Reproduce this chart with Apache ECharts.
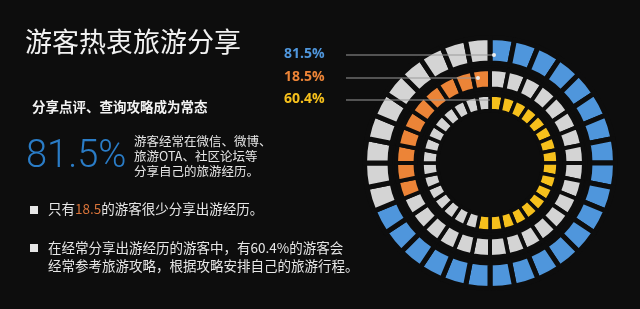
<!DOCTYPE html>
<html>
<head>
<meta charset="utf-8">
<script src="https://cdn.jsdelivr.net/npm/echarts@6/dist/echarts.min.js"></script>
<style>
  html, body { margin: 0; padding: 0; background: #0d0d0d; }
  #main { width: 640px; height: 309px; }
</style>
</head>
<body>
<div id="main"></div>
<script>
"use strict"
const backColor = '#0d0d0d';
const cjk = '"Noto Sans CJK SC", sans-serif';

// 三个环：外(蓝) 中(橙) 内(黄)
const ringNames = ['经常分享', '很少分享', '参考攻略'];
const ringPercent = ['81.5%', '18.5%', '60.4%'];
const ringSegments = [32, 32, 32];
const ringLit = [22, 10, 17];            // 图中亮色格子数
const ringLitFromEnd = [false, true, false];
const ringColors = ['#4f96dc', '#ec8437', '#f6c01c'];
const restColor = '#d4d4d4';

const bigNumber = '81.5%';
const rareShare = '18.5';

let chart = echarts.init(document.getElementById('main'), null, {renderer: 'canvas'});

const cx = 490, cy = 163;
const ringRadius = [[100, 125.5], [74.5, 94], [52.5, 68]];
const ringGap = [5, 4, 3.5];

function ringData(idx) {
    let n = ringSegments[idx], lit = ringLit[idx];
    let arr = [];
    for (let i = 0; i < n; i++) {
        let on = ringLitFromEnd[idx] ? i >= n - lit : i < lit;
        arr.push({name: ringNames[idx] + i, value: 1, itemStyle: {color: on ? ringColors[idx] : restColor}});
    }
    return arr;
}

let series = ringNames.map(function (name, idx) {
    return {
        type: 'pie',
        name: name,
        center: [cx, cy],
        radius: ringRadius[idx],
        startAngle: 90,
        silent: true,
        label: {show: false},
        labelLine: {show: false},
        itemStyle: {borderColor: backColor, borderWidth: ringGap[idx]},
        data: ringData(idx)
    };
});

// 引导线与百分比标签
const lineY = [55, 78, 100];
const lineEndX = [494, 478, 490];
let graphics = [];
ringPercent.forEach(function (txt, idx) {
    graphics.push({
        type: 'text', left: 284, top: lineY[idx] - 8,
        style: {text: txt, fill: ringColors[idx], font: 'bold 14px "Open Sans", sans-serif'}
    });
    graphics.push({
        type: 'line', z: 10,
        shape: {x1: 346, y1: lineY[idx], x2: lineEndX[idx], y2: lineY[idx]},
        style: {stroke: '#9a9a9a', lineWidth: 1}
    });
    if (idx < 2) {
        graphics.push({
            type: 'circle', z: 11,
            shape: {cx: lineEndX[idx], cy: lineY[idx], r: 2},
            style: {fill: '#eeeeee'}
        });
    }
});

graphics.push(
    {type: 'text', left: 25, top: 28,
     style: {text: '游客热衷旅游分享', fill: '#f2f2f2', font: '27px ' + cjk}},
    {type: 'text', left: 32, top: 100,
     style: {text: '分享点评、查询攻略成为常态', fill: '#f2f2f2', font: 'bold 13.5px ' + cjk}},
    {type: 'text', left: 26, top: 138,
     style: {text: bigNumber, fill: '#2a7cc6', font: '300 38px Roboto, sans-serif'}},
    {type: 'text', left: 134, top: 134,
     style: {text: '游客经常在微信、微博、\n旅游OTA、社区论坛等\n分享自己的旅游经历。',
             fill: '#e6e6e6', font: '12.5px ' + cjk, lineHeight: 15}},
    {type: 'rect', shape: {x: 30, y: 206, width: 8, height: 8}, style: {fill: '#e6e6e6'}},
    {type: 'text', left: 48, top: 202,
     style: {text: '{a|只有}{b|' + rareShare + '}{a|的游客很少分享出游经历。}',
             rich: {a: {fill: '#e6e6e6', font: '13.5px ' + cjk},
                    b: {fill: '#d9743a', font: '13.5px ' + cjk}}}},
    {type: 'rect', shape: {x: 30, y: 244, width: 8, height: 8}, style: {fill: '#e6e6e6'}},
    {type: 'text', left: 48, top: 239,
     style: {text: '在经常分享出游经历的游客中，有60.4%的游客会\n经常参考旅游攻略，根据攻略安排自己的旅游行程。',
             fill: '#e6e6e6', font: '13.5px ' + cjk, lineHeight: 18}}
);

chart.setOption({
    backgroundColor: backColor,
    animation: false,
    series: series,
    graphic: graphics
});
</script>
</body>
</html>
